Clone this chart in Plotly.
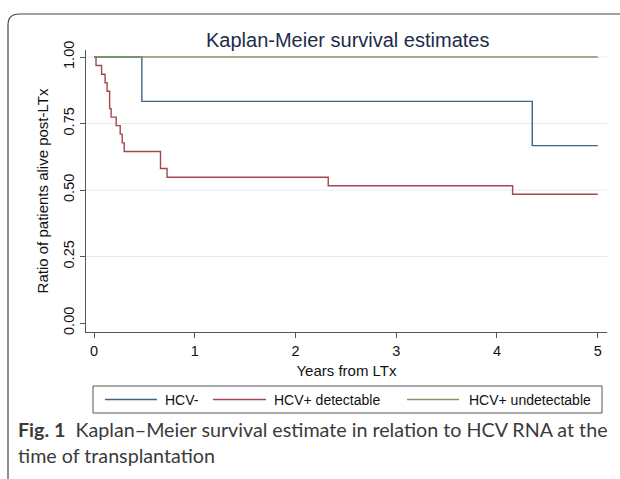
import plotly.graph_objects as go

# ---------------- data ----------------
title_text = "Kaplan-Meier survival estimates"
series_names = ["HCV-", "HCV+ detectable", "HCV+ undetectable"]

hcv_neg_t = [0.0, 0.475, 4.35, 5.0]
hcv_neg_s = [1.0, 0.8333, 0.6667, 0.6667]

hcv_det_t = [0.0, 0.02, 0.075, 0.11, 0.13, 0.155, 0.17, 0.22, 0.26, 0.28, 0.30,
             0.66, 0.725, 2.325, 4.155, 5.0]
hcv_det_s = [1.0, 0.968, 0.935, 0.903, 0.871, 0.806, 0.774, 0.742, 0.710, 0.677, 0.645,
             0.581, 0.548, 0.516, 0.484, 0.484]

hcv_und_t = [0.0, 5.0]
hcv_und_s = [1.0, 1.0]

x_ticks = [0, 1, 2, 3, 4, 5]
y_ticks = [0.0, 0.25, 0.5, 0.75, 1.0]
y_tick_labels = ["0.00", "0.25", "0.50", "0.75", "1.00"]
grid_vals = [0.25, 0.5, 0.75, 1.0]

colors = ["#3f6487", "#a3474f", "#7f9663"]

# ---------------- layout geometry (pixels) ----------------
W, H = 620, 479
L, R, T, B = 86, 13, 50, 147
PW, PH = W - L - R, H - T - B


def px(x):
    return (x - L) / PW


def py(y):
    return (H - B - y) / PH


fig = go.Figure()
for name, t, s, c in zip(series_names, [hcv_neg_t, hcv_det_t, hcv_und_t],
                         [hcv_neg_s, hcv_det_s, hcv_und_s], colors):
    fig.add_trace(go.Scatter(x=t, y=s, mode="lines", name=name,
                             line=dict(color=c, width=1.4, shape="hv"),
                             showlegend=False))

shapes = []
# grid lines
for g in grid_vals:
    shapes.append(dict(type="line", xref="paper", yref="y", x0=0, x1=1, y0=g, y1=g,
                       line=dict(color="#e6eaef", width=1), layer="below"))

# rounded outer frame
r = 11
frame_path = (f"M{px(8)},{py(H + 5)} L{px(8)},{py(14 + r)} "
              f"Q{px(8)},{py(14)} {px(8 + r)},{py(14)} L{px(W + 5)},{py(14)}")
shapes.append(dict(type="path", xref="paper", yref="paper", path=frame_path,
                   line=dict(color="#444444", width=1.2)))

# legend box
lx0, lx1, ly0, ly1 = 93, 602, 386, 413
shapes.append(dict(type="rect", xref="paper", yref="paper",
                   x0=px(lx0), x1=px(lx1), y0=py(ly1), y1=py(ly0),
                   line=dict(color="#555555", width=1), fillcolor="white"))
leg_line_x = [(105, 157), (213, 266), (407, 459)]
leg_text_x = [163, 272, 467]
ly = (ly0 + ly1) / 2
annotations = []
for (a, b), tx, name, c in zip(leg_line_x, leg_text_x, series_names, colors):
    shapes.append(dict(type="line", xref="paper", yref="paper",
                       x0=px(a), x1=px(b), y0=py(ly), y1=py(ly),
                       line=dict(color=c, width=1.4)))
    annotations.append(dict(xref="paper", yref="paper", x=px(tx), y=py(ly),
                            text=name, showarrow=False, xanchor="left", yanchor="middle",
                            font=dict(family="Liberation Sans, Arial", size=14, color="#111111")))

# title
annotations.append(dict(xref="paper", yref="paper", x=px(347), y=py(40), text=title_text,
                        showarrow=False, xanchor="center", yanchor="middle",
                        font=dict(family="Liberation Sans, Arial", size=20, color="#1c2b4a")))

# caption
cap_font = dict(family="Lato, Noto Sans", size=19.7, color="#3a3a3a")
annotations.append(dict(xref="paper", yref="paper", x=px(16), y=py(429),
                        text="<b>Fig. 1</b>  Kaplan–Meier survival estimate in relation to HCV RNA at the",
                        showarrow=False, xanchor="left", yanchor="middle", font=cap_font))
annotations.append(dict(xref="paper", yref="paper", x=px(16), y=py(455),
                        text="time of transplantation",
                        showarrow=False, xanchor="left", yanchor="middle", font=cap_font))

fig.update_layout(
    width=W, height=H,
    margin=dict(l=L, r=R, t=T, b=B, pad=0),
    paper_bgcolor="white", plot_bgcolor="white",
    shapes=shapes, annotations=annotations,
    showlegend=False,
    font=dict(family="Liberation Sans, Arial", color="#111111"),
    xaxis=dict(range=[-0.0794, 5.092], tickvals=x_ticks, ticktext=[str(v) for v in x_ticks],
               automargin=False,
               showgrid=False, zeroline=False, showline=True, linecolor="#555555", linewidth=1.2,
               ticks="outside", ticklen=5, tickcolor="#555555",
               tickfont=dict(size=14.5, color="#111111"),
               title=dict(text="Years from LTx", font=dict(size=15, color="#111111"), standoff=7)),
    yaxis=dict(range=[-0.0338, 1.0263], tickvals=y_ticks, ticktext=y_tick_labels,
               automargin=False,
               showgrid=False, zeroline=False, showline=True, linecolor="#555555", linewidth=1.2,
               ticks="outside", ticklen=5, tickcolor="#555555", tickangle=-90,
               tickfont=dict(size=14.5, color="#111111"),
               title=dict(text="Ratio of patients alive post-LTx", font=dict(size=15, color="#111111"),
                          standoff=8)),
)

fig.write_html("out.html", config={"displayModeBar": False},
               post_script="document.body.style.margin='0';document.body.style.overflow='hidden';")
